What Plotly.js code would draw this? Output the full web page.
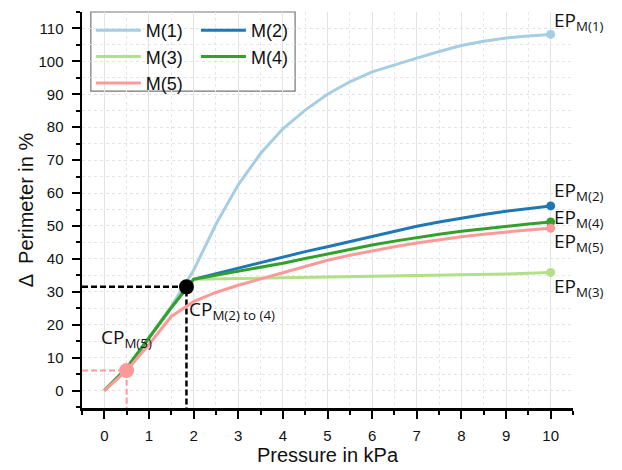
<!DOCTYPE html>
<html>
<head>
<meta charset="utf-8">
<script src="https://cdn.plot.ly/plotly-3.0.1.min.js"></script>
<style>html,body{margin:0;padding:0;background:#fff;}#chart{width:622px;height:470px;}</style>
</head>
<body>
<div id="chart"></div>
<script>
// ---- data ----
var pressure = [0,0.5,1,1.5,2,2.5,3,3.5,4,4.5,5,5.5,6,6.5,7,7.5,8,8.5,9,9.5,10];
var m1 = [0,6.8,16,25.5,36.5,50.5,62.5,72,79.5,85.2,90,93.8,96.8,99,101,103,104.8,106.1,107.1,107.7,108.2];
var m2 = [0,6.8,16,25.2,33.8,35.5,37.2,39,40.7,42.2,43.7,45.3,46.9,48.4,49.9,51.2,52.4,53.5,54.5,55.3,56.1];
var m3 = [0,6.8,16,25.2,33.8,33.9,34,34.1,34.2,34.3,34.4,34.5,34.6,34.7,34.8,34.95,35.1,35.25,35.4,35.65,35.9];
var m4 = [0,6.8,16,25.2,33.8,35,36.2,37.5,38.7,40.1,41.5,42.9,44.2,45.4,46.5,47.5,48.4,49.2,49.9,50.6,51.2];
var m5 = [0,6.1,14,22.5,27,29.8,32,34,35.8,37.7,39.6,41.1,42.5,43.7,44.8,45.8,46.7,47.5,48.2,48.8,49.3];
var seriesNames = ['M(1)','M(2)','M(3)','M(4)','M(5)'];
var seriesColors = ['#a6cee3','#1f78b4','#b2df8a','#33a02c','#fb9a99'];
var epLabels = ['EP<sub>M(1)</sub>','EP<sub>M(2)</sub>','EP<sub>M(3)</sub>','EP<sub>M(4)</sub>','EP<sub>M(5)</sub>'];
var epLabelY = [112.3, 60.7, 31.5, 52.5, 45.0];
var cpMain = {x: 1.84, y: 31.5, label: 'CP<sub>M(2) to (4)</sub>', labelX: 1.86, labelY: 24.6};
var cpM5 = {x: 0.5, y: 6.1, label: 'CP<sub>M(5)</sub>', labelX: -0.12, labelY: 15.9};
var xTickVals = [0,1,2,3,4,5,6,7,8,9,10];
var yTickVals = [0,10,20,30,40,50,60,70,80,90,100,110];
var xRange = [-0.5, 10.5];
var yRange = [-5.3, 115];

var allY = [m1, m2, m3, m4, m5];
var legendOf = ['legend','legend2','legend','legend2','legend'];
var traces = [];
// guide lines (dashed)
traces.push({x:[xRange[0], cpMain.x, cpMain.x], y:[cpMain.y, cpMain.y, yRange[0]], mode:'lines',
  line:{color:'#000', width:2.5, dash:'6px,3px'}, showlegend:false, hoverinfo:'skip'});
for (var i = 0; i < 5; i++) {
  traces.push({x: pressure, y: allY[i], name: seriesNames[i], mode: 'lines',
    line: {color: seriesColors[i], width: 3}, legend: legendOf[i]});
}
traces.push({x:[xRange[0], cpM5.x, cpM5.x], y:[cpM5.y, cpM5.y, yRange[0]], mode:'lines',
  line:{color:'#fb9a99', width:2, dash:'6px,3px'}, showlegend:false, hoverinfo:'skip'});
// end points
for (var j = 0; j < 5; j++) {
  var n = pressure.length - 1;
  traces.push({x:[pressure[n]], y:[allY[j][n]], mode:'markers', marker:{color:seriesColors[j], size:9},
    showlegend:false, hoverinfo:'skip', cliponaxis:false});
}
// critical points
traces.push({x:[cpMain.x], y:[cpMain.y], mode:'markers', marker:{color:'#000', size:15}, showlegend:false, cliponaxis:false});
traces.push({x:[cpM5.x], y:[cpM5.y], mode:'markers', marker:{color:'#fb9a99', size:15}, showlegend:false, cliponaxis:false});

var annFont = {family:'Open Sans, sans-serif', size:19, color:'#111'};
var annotations = [];
for (var k = 0; k < 5; k++) {
  annotations.push({x: 10, y: epLabelY[k], xref:'x', yref:'y', text: epLabels[k], showarrow:false,
    xanchor:'left', yanchor:'middle', xshift:2, font: annFont, borderpad:0});
}
annotations.push({x: cpMain.labelX, y: cpMain.labelY, xref:'x', yref:'y', text: cpMain.label, showarrow:false,
  xanchor:'left', yanchor:'middle', font: annFont});
annotations.push({x: cpM5.labelX, y: cpM5.labelY, xref:'x', yref:'y', text: cpM5.label, showarrow:false,
  xanchor:'left', yanchor:'middle', font: annFont});

var tickFont = {family:'Liberation Sans, Arial, sans-serif', size:15, color:'#111'};
var layout = {
  width: 622, height: 470,
  margin: {l:82, r:49, t:12, b:62},
  paper_bgcolor:'#fff', plot_bgcolor:'#fff',
  showlegend: true,
  xaxis: {
    range: xRange, tickvals: xTickVals, ticktext: xTickVals.map(String),
    showline:true, linecolor:'#000', linewidth:2.5, ticks:'outside', ticklen:8, tickwidth:2, tickcolor:'#000',
    showgrid:true, gridcolor:'#e3e3e3', gridwidth:1, zeroline:false,
    minor: {dtick:0.5, ticks:'outside', ticklen:4, tickwidth:2, tickcolor:'#000', showgrid:true, gridcolor:'#e6e6e6', griddash:'3px,3px'},
    tickfont: tickFont, ticklabelstandoff: 4,
    title: {text:'Pressure in kPa', font:{family:'Liberation Sans, Arial, sans-serif', size:20, color:'#111'}, standoff: 4},
    automargin: false
  },
  yaxis: {
    range: yRange, tickvals: yTickVals, ticktext: yTickVals.map(String),
    showline:true, linecolor:'#000', linewidth:2.5, ticks:'outside', ticklen:8, tickwidth:2, tickcolor:'#000',
    showgrid:true, gridcolor:'#e3e3e3', gridwidth:1, griddash:'3px,3px', zeroline:false,
    minor: {dtick:5, ticks:'outside', ticklen:4, tickwidth:2, tickcolor:'#000', showgrid:true, gridcolor:'#e6e6e6', griddash:'3px,3px'},
    tickfont: tickFont, ticklabelstandoff: 5,
    title: {text:'Δ  Perimeter in %', font:{family:'Liberation Sans, Arial, sans-serif', size:20, color:'#111'}, standoff: 0},
    automargin: false
  },
  legend: {x:0.018, y:1, xanchor:'left', yanchor:'top', bgcolor:'rgba(0,0,0,0)', borderwidth:0,
    font:{family:'Liberation Sans, Arial, sans-serif', size:18, color:'#111'}, itemwidth:45, tracegroupgap:0},
  legend2: {x:0.232, y:1, xanchor:'left', yanchor:'top', bgcolor:'rgba(0,0,0,0)', borderwidth:0,
    font:{family:'Liberation Sans, Arial, sans-serif', size:18, color:'#111'}, itemwidth:45, tracegroupgap:0},
  shapes: [{type:'rect', xref:'paper', yref:'paper', x0:0.018, x1:0.434, y0:0.80, y1:1.0,
    line:{color:'#777', width:1.2}, fillcolor:'#fff', layer:'between'}],
  annotations: annotations
};
Plotly.newPlot('chart', traces, layout, {displayModeBar:false, staticPlot:true});
</script>
</body>
</html>
